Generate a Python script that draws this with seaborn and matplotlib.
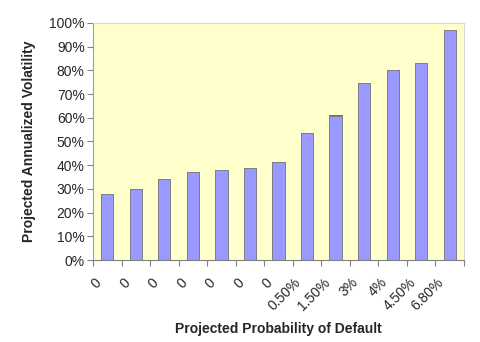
import matplotlib
matplotlib.use("Agg")
import matplotlib.pyplot as plt
import matplotlib.transforms as mtransforms
import seaborn as sns
import pandas as pd
import numpy as np
from matplotlib.ticker import PercentFormatter, FixedLocator

# Default probability buckets and projected volatility (%)
categories = ["0", "0", "0", "0", "0", "0", "0", "0.50%", "1.50%", "3%", "4%", "4.50%", "6.80%"]
volatility = [27.8, 30.0, 34.2, 37.3, 37.8, 38.9, 41.3, 53.4, 60.8, 74.7, 80.0, 83.1, 97.0]
# small extra segment stacked on top of the bars
extra = [0, 0, 0, 0, 0, 0, 0, 0, 0.5, 0, 0, 0, 0]

sns.set_theme(style="white")
plt.rcParams["font.family"] = ["Liberation Sans", "DejaVu Sans"]

df = pd.DataFrame({"pos": [f"c{i}" for i in range(len(categories))],
                   "vol": volatility,
                   "extra": extra})
df["total"] = df["vol"] + df["extra"]

fig = plt.figure(figsize=(4.8, 3.42), dpi=100)
ax = fig.add_axes([93 / 480, 1 - 260 / 342, (464 - 93) / 480, (260 - 23) / 342])
ax.set_facecolor("#FFFFCC")

sns.barplot(data=df, x="pos", y="total", color="#333333", width=0.43,
            edgecolor="#666666", linewidth=0.6, saturation=1, ax=ax)
sns.barplot(data=df, x="pos", y="vol", color="#9999FF", width=0.43,
            edgecolor="#808080", linewidth=0.6, saturation=1, ax=ax)

ax.set_xlim(-0.5, len(categories) - 0.5)
ax.set_ylim(0, 100)
ax.yaxis.set_major_locator(FixedLocator(np.arange(0, 101, 10)))
ax.yaxis.set_major_formatter(PercentFormatter(decimals=0))

ax.set_xticks(range(len(categories)))
ax.set_xticklabels(categories, rotation=45, ha="right", rotation_mode="anchor")
ax.tick_params(axis="x", which="major", length=0, pad=11, labelsize=10)
ax.set_xticks(np.arange(-0.5, len(categories), 1.0), minor=True)
ax.tick_params(axis="x", which="minor", length=4, color="#808080", width=0.8, bottom=True)
ax.tick_params(axis="y", length=4, color="#808080", width=0.8, left=True, labelsize=10, pad=2)

for side, sp in ax.spines.items():
    sp.set_color("#808080")
    sp.set_linewidth(0.8)
ax.spines["left"].set_color("#9C9CB8")
ax.spines["top"].set_color("#D8D8D8")
ax.spines["right"].set_color("#D8D8D8")

ax.set_xlabel("Projected Probability of Default", fontsize=10, fontweight="bold")
ax.set_ylabel("Projected Annualized Volatility", fontsize=10, fontweight="bold")
ax.xaxis.set_label_coords(0.5, -0.262)
ax.yaxis.set_label_coords(-0.154, 0.5)

# nudge the slanted category labels to the left
fig.canvas.draw()
shift = mtransforms.ScaledTranslation(-13 / 100, 0, fig.dpi_scale_trans)
for lbl in ax.get_xticklabels():
    lbl.set_transform(lbl.get_transform() + shift)

fig.savefig("out.png", dpi=100, facecolor="white")
